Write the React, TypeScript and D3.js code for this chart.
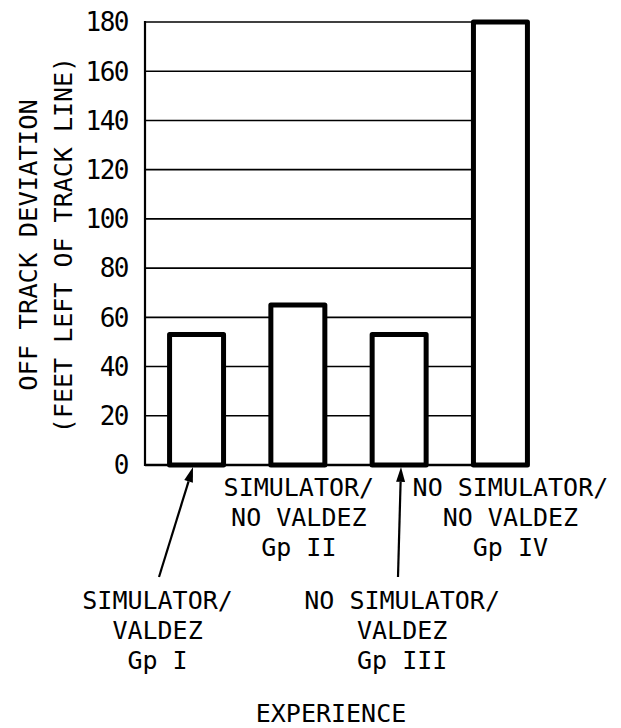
import React from "react";
import * as d3 from "d3";

const groups = ["Gp I", "Gp II", "Gp III", "Gp IV"];
const values = [53, 65, 53, 180];
const labelLines = [
  ["SIMULATOR/", "VALDEZ", "Gp I"],
  ["SIMULATOR/", "NO VALDEZ", "Gp II"],
  ["NO SIMULATOR/", "VALDEZ", "Gp III"],
  ["NO SIMULATOR/", "NO VALDEZ", "Gp IV"],
];
const yTicks = [0, 20, 40, 60, 80, 100, 120, 140, 160, 180];
const yTitle = ["OFF TRACK DEVIATION", "(FEET LEFT OF TRACK LINE)"];
const xTitle = "EXPERIENCE";

// layout
const W = 621, H = 728;
const X0 = 145, X1 = 529, Y0 = 465, Y1 = 22;
const labelLayout = [
  { dx: -39, y: 609, arrow: true },
  { dx: 1, y: 496, arrow: false },
  { dx: 3, y: 609, arrow: true },
  { dx: 10, y: 496, arrow: false },
];
const FONT = "'DejaVu Sans Mono', 'Liberation Mono', monospace";

export default function App() {
  const x = d3.scaleBand<string>().domain(groups).range([X0, X1])
    .paddingInner(0.467).paddingOuter(0.129).align(0.94);
  const y = d3.scaleLinear().domain([0, 180]).range([Y0, Y1]);
  const bw = x.bandwidth();
  const arrowTargets = [
    { tx: 193, sx: 159 },
    null,
    { tx: 401, sx: 398 },
    null,
  ];
  return (
    <svg width={W} height={H} style={{ position: "absolute", left: 0, top: 0, background: "#fff" }}>
      <rect width={W} height={H} fill="#fff" />
      {/* gridlines */}
      {yTicks.filter(t => t > 0).map(t => (
        <line key={t} x1={X0} x2={X1 - 5} y1={y(t)} y2={y(t)} stroke="#000" strokeWidth={1.6} />
      ))}
      {/* left axis and baseline */}
      <line x1={X0} x2={X0} y1={Y1 - 1} y2={Y0 + 1} stroke="#000" strokeWidth={2.2} />
      <line x1={X0} x2={X1} y1={Y0} y2={Y0} stroke="#000" strokeWidth={2.4} />
      {/* bars */}
      {groups.map((g, i) => (
        <rect key={g} x={x(g)!} y={y(values[i])} width={bw} height={Y0 - y(values[i])}
          fill="#fff" stroke="#000" strokeWidth={5} strokeLinejoin="round" />
      ))}
      {/* tick labels */}
      {yTicks.map(t => (
        <text key={t} x={128} y={y(t)} dy="0.36em" textAnchor="end" fontFamily={FONT}
          fontSize={26} letterSpacing={-1.5} fill="#000">{t}</text>
      ))}
      {/* y title */}
      <g transform="translate(37,245) rotate(-90)">
        <text x={0} y={0} textAnchor="middle" fontFamily={FONT} fontSize={25.5} fill="#000">{yTitle[0]}</text>
      </g>
      <g transform="translate(72,245) rotate(-90)">
        <text x={0} y={0} textAnchor="middle" fontFamily={FONT} fontSize={25} fill="#000">{yTitle[1]}</text>
      </g>
      {/* category labels */}
      {groups.map((g, i) => {
        const cx = x(g)! + bw / 2 + labelLayout[i].dx;
        return (
          <g key={g}>
            {labelLines[i].map((ln, j) => (
              <text key={j} x={cx} y={labelLayout[i].y + j * 30} textAnchor="middle"
                fontFamily={FONT} fontSize={25} fill="#000">{ln}</text>
            ))}
          </g>
        );
      })}
      {/* arrows */}
      {arrowTargets.map((a, i) => {
        if (!a) return null;
        const sy = 577, ty = Y0 + 2;
        const ang = Math.atan2(ty - sy, a.tx - a.sx);
        const L = 15, hw = 4.5;
        const bx = a.tx - L * Math.cos(ang), by = ty - L * Math.sin(ang);
        const px = -Math.sin(ang) * hw, py = Math.cos(ang) * hw;
        return (
          <g key={i}>
            <line x1={a.sx} y1={sy} x2={bx} y2={by} stroke="#000" strokeWidth={2.2} />
            <path d={`M${a.tx},${ty}L${bx + px},${by + py}L${bx - px},${by - py}Z`} fill="#000" />
          </g>
        );
      })}
      {/* x title */}
      <text x={331} y={722} textAnchor="middle" fontFamily={FONT} fontSize={25} fill="#000">{xTitle}</text>
    </svg>
  );
}
